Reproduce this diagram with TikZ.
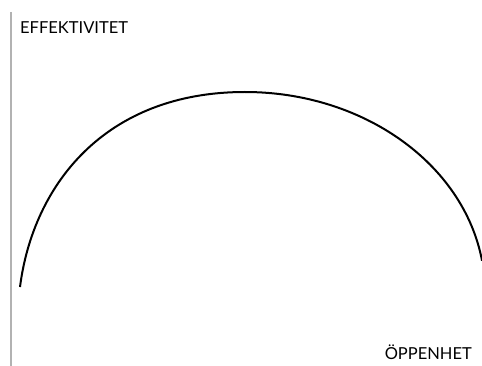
\documentclass[tikz,border=0pt]{standalone}
\usepackage{fontspec}
\setmainfont{Lato}
\usepackage{tikz}
\usetikzlibrary{positioning}
\definecolor{axisGray}{RGB}{178,178,178}

\begin{document}
\begin{tikzpicture}[x=1pt, y=-1pt]
  \useasboundingbox (0,0) rectangle (482,366);
  \draw[axisGray, line width=2pt] (11,12) -- (11,366);
  \node[anchor=base west, inner sep=0pt, font=\fontsize{16.5}{19}\selectfont]
    (effekt) at (20,34) {EFFEKTIVITET};
  \node[anchor=base east, inner sep=0pt, font=\fontsize{16.5}{19}\selectfont]
    (oppen) at (472,359) {ÖPPENHET};
  % curve: rises steeply, flattens at the top, falls off at the right edge
  \coordinate (start) at (20,287);
  \coordinate (top) at (245,92);
  \draw[black, line width=2pt] (start)
    .. controls (33,185) and (105,92) .. (top)
    arc[start angle=270, end angle=351, x radius=240, y radius=200];
\end{tikzpicture}
\end{document}
